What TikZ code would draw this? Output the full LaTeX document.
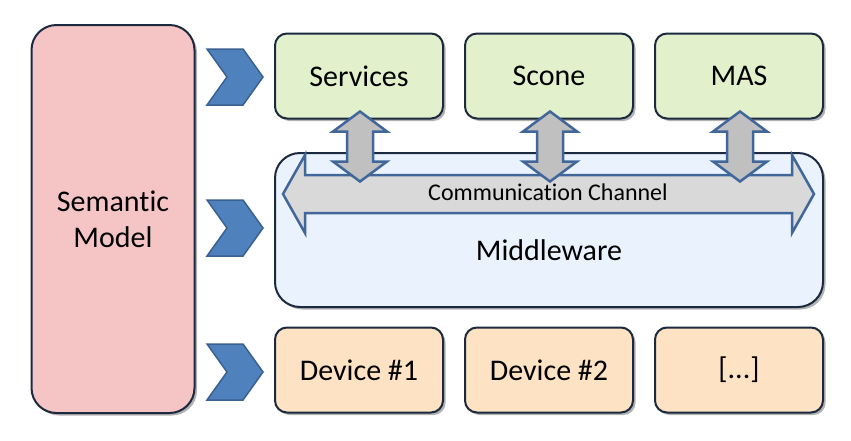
\documentclass[tikz,border=0pt]{standalone}
\usepackage{fontspec}
\setmainfont[Ligatures=NoCommon]{Carlito}
\usetikzlibrary{shadows,positioning,calc}
\definecolor{boxline}{HTML}{1B2A3E}
\definecolor{semfill}{HTML}{F5C5C6}
\definecolor{topfill}{HTML}{E3F0CC}
\definecolor{midfill}{HTML}{EAF3FD}
\definecolor{devfill}{HTML}{FDE3C3}
\definecolor{chevfill}{HTML}{4F81BD}
\definecolor{chevline}{HTML}{3A6090}
\definecolor{linkfill}{HTML}{C0C0C0}
\definecolor{chanfill}{HTML}{D9D9D9}
\definecolor{arrline}{HTML}{41679A}
\tikzset{
  shade box/.style={draw=boxline, line width=2pt, inner sep=0pt,
    drop shadow={shadow xshift=2.5pt, shadow yshift=-2.5pt, opacity=0.3, fill=black}},
  semantic/.style={shade box, fill=semfill, rounded corners=25pt, align=center,
    minimum width=163pt, minimum height=388pt, font=\fontsize{30}{36}\selectfont},
  upper/.style={shade box, fill=topfill, rounded corners=12pt,
    minimum width=168pt, minimum height=85pt, font=\fontsize{30}{36}\selectfont},
  lower/.style={shade box, fill=devfill, rounded corners=12pt,
    minimum width=168pt, minimum height=85pt, font=\fontsize{30}{36}\selectfont},
  mid/.style={shade box, fill=midfill, rounded corners=25pt,
    minimum width=548pt, minimum height=154pt},
  chevron/.style={draw=chevline, fill=chevfill, line width=1.5pt, line join=miter},
  channel/.style={draw=arrline, fill=chanfill, line width=2.5pt, line join=miter},
  link/.style={draw=arrline, fill=linkfill, line width=2.5pt, line join=miter},
  label/.style={inner sep=0pt}
}
\begin{document}
\begin{tikzpicture}[x=1pt,y=-1pt]
  \useasboundingbox (0,0) rectangle (851,440);
  \node[semantic] (sem) at (113,219) {Semantic\\Model};

  % top layer
  \node[upper] (srv) at (359,76) {Services};
  \node[upper, right=20pt of srv] (scone) {Scone};
  \node[upper, right=20pt of scone] (mas) {MAS};

  % middleware with its channel
  \node[mid] (mw) at (549,230) {};
  \draw[channel] ($(mw.west)+(9,-36)$) -- ++(22,-39) -- ++(0,20) -- ++(487,0) -- ++(0,-20)
    -- ++(22,39) -- ++(-22,39) -- ++(0,-20) -- ++(-487,0) -- ++(0,20) -- cycle;
  \node[label, font=\fontsize{24}{28}\selectfont] (commtxt) at (548,192) {Communication Channel};
  \node[label, font=\fontsize{30}{36}\selectfont] (mwtxt) at (549,250) {Middleware};
  \foreach \t in {srv,scone,mas}
    \draw[link] ($(\t.south)+(1,-8)$) -- ++(27,20) -- ++(-14,0) -- ++(0,30) -- ++(14,0)
      -- ++(-27,20) -- ++(-27,-20) -- ++(14,0) -- ++(0,-30) -- ++(-14,0) -- cycle;

  % devices
  \node[lower] (dev1) at (359,370) {Device \#1};
  \node[lower, right=20pt of dev1] (dev2) {Device \#2};
  \node[lower, right=20pt of dev2] (dev3) {[...]};

  % chevrons
  \foreach \y in {77,228,372}
    \draw[chevron] (207,\y-28) -- ++(36,0) -- ++(20,28) -- ++(-20,28) -- ++(-36,0) -- ++(20,-28) -- cycle;
\end{tikzpicture}
\end{document}
